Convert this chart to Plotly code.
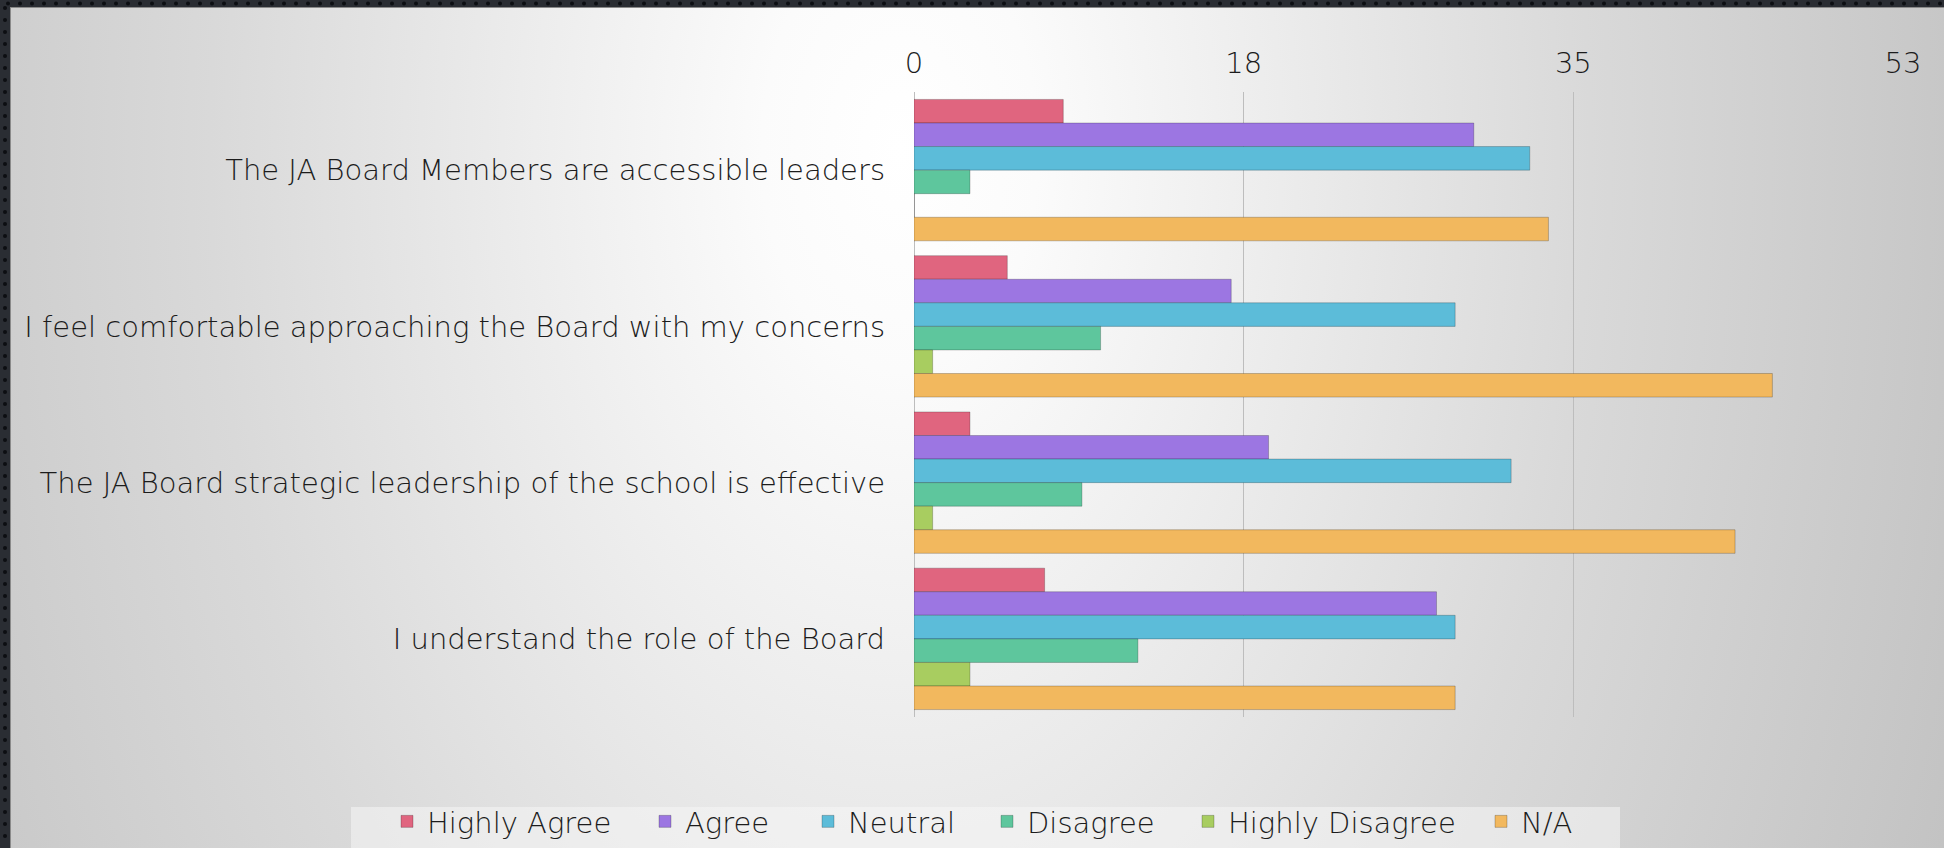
import base64
import plotly.graph_objects as go

# ---- data ----
categories = [
    "The JA Board Members are accessible leaders",
    "I feel comfortable approaching the Board with my concerns",
    "The JA Board strategic leadership of the school is effective",
    "I understand the role of the Board",
]
series_names = ["Highly Agree", "Agree", "Neutral", "Disagree", "Highly Disagree", "N/A"]
highly_agree = [8, 5, 3, 7]
agree = [30, 17, 19, 28]
neutral = [33, 29, 32, 29]
disagree = [3, 10, 9, 12]
highly_disagree = [0, 1, 1, 3]
not_applicable = [34, 46, 44, 29]
series_values = [highly_agree, agree, neutral, disagree, highly_disagree, not_applicable]
colors = ["#E0657F", "#9C76E2", "#5CBCD9", "#5EC69D", "#A8CD60", "#F2B85E"]
axis_max = 53

W, H = 1944, 848
ML, MR, MT, MB = 914, 41, 92, 131
FONT = "DejaVu Sans"
FW = 300
FS = 29
TXT = "#1c1c1c"

# legend text start positions (px from left) for each entry
legend_text_x = [427, 685, 848, 1027, 1228, 1521]
legend_box = (351, 807, 1620, 848)

# ---- background (slide gradient + frame) as an SVG image ----
dots_top = "".join(
    f'<circle cx="{x}" cy="3.5" r="2" fill="#0c0e12"/>' for x in range(8, W, 12)
)
dots_left = "".join(
    f'<circle cx="5" cy="{y}" r="2" fill="#0c0e12"/>' for y in range(8, H, 12)
)
svg = f'''<svg xmlns="http://www.w3.org/2000/svg" width="{W}" height="{H}" viewBox="0 0 {W} {H}">
<defs>
<radialGradient id="g" gradientUnits="userSpaceOnUse" cx="900" cy="150" r="1150"
 gradientTransform="translate(900 150) scale(1 1.6) translate(-900 -150)">
<stop offset="0" stop-color="#ffffff"/>
<stop offset="0.12" stop-color="#fbfbfb"/>
<stop offset="0.6" stop-color="#d9d9d9"/>
<stop offset="1" stop-color="#c2c2c2"/>
</radialGradient>
</defs>
<rect x="0" y="0" width="{W}" height="{H}" fill="url(#g)"/>
<rect x="0" y="0" width="{W}" height="7" fill="#2a2d33"/>
<rect x="0" y="0" width="10" height="{H}" fill="#2a2d33"/>
{dots_top}{dots_left}
<line x1="10.5" y1="7" x2="10.5" y2="{H}" stroke="#8a8a8a" stroke-width="1"/>
<line x1="10" y1="7.5" x2="{W}" y2="7.5" stroke="#8a8a8a" stroke-width="1"/>
</svg>'''
bg_src = "data:image/svg+xml;base64," + base64.b64encode(svg.encode()).decode()

pw = W - ML - MR
ph = H - MT - MB


def px_x(x):
    return (x - ML) / pw


def px_y(y):
    return (H - MB - y) / ph


fig = go.Figure()
legend_layouts = {}
for i, (name, vals, col) in enumerate(zip(series_names, series_values, colors)):
    lname = "legend" if i == 0 else f"legend{i + 1}"
    fig.add_trace(go.Bar(
        y=categories, x=vals, name=name, orientation="h", legend=lname,
        marker=dict(color=col, line=dict(color="rgba(0,0,0,0.22)", width=1)),
    ))
    legend_layouts[lname] = dict(
        orientation="h", x=px_x(legend_text_x[i] - 40), xanchor="left",
        y=px_y(H - 1), yanchor="bottom",
        bgcolor="rgba(0,0,0,0)", borderwidth=0, itemwidth=30,
        font=dict(family=FONT, size=FS, color=TXT, weight=FW),
    )

fig.add_layout_image(dict(
    source=bg_src, xref="paper", yref="paper",
    x=-ML / pw, y=1 + MT / ph, sizex=W / pw, sizey=H / ph,
    xanchor="left", yanchor="top", sizing="stretch", layer="below",
))

fig.add_shape(
    type="rect", xref="paper", yref="paper", layer="below",
    x0=px_x(legend_box[0]), x1=px_x(legend_box[2]),
    y0=px_y(legend_box[3]), y1=px_y(legend_box[1]),
    fillcolor="rgba(246,246,246,0.55)", line=dict(width=0),
)

fig.update_layout(
    width=W, height=H, autosize=False,
    margin=dict(l=ML, r=MR, t=MT, b=MB, pad=0, autoexpand=False),
    paper_bgcolor="rgba(0,0,0,0)", plot_bgcolor="rgba(0,0,0,0)",
    barmode="group", bargap=0.095, bargroupgap=0,
    font=dict(family=FONT, size=FS, color=TXT, weight=FW),
    showlegend=True,
    xaxis=dict(
        side="top", range=[0, axis_max], tick0=0, dtick=axis_max / 3,
        tickformat=".0f", showgrid=True, gridcolor="#bdbdbd", gridwidth=1,
        zeroline=True, zerolinecolor="#bdbdbd", zerolinewidth=1,
        showline=False, ticks="", ticklabelstandoff=12, automargin=False,
        tickfont=dict(family=FONT, size=FS, color=TXT, weight=FW),
    ),
    yaxis=dict(
        autorange="reversed", showgrid=False, showline=False, ticks="",
        ticklabelstandoff=28, automargin=False,
        tickfont=dict(family=FONT, size=FS, color=TXT, weight=FW),
    ),
    **legend_layouts,
)

fig.write_html(
    "out.html",
    config={"displayModeBar": False, "responsive": False},
    post_script="document.body.style.margin='0';document.body.style.overflow='hidden';",
)
